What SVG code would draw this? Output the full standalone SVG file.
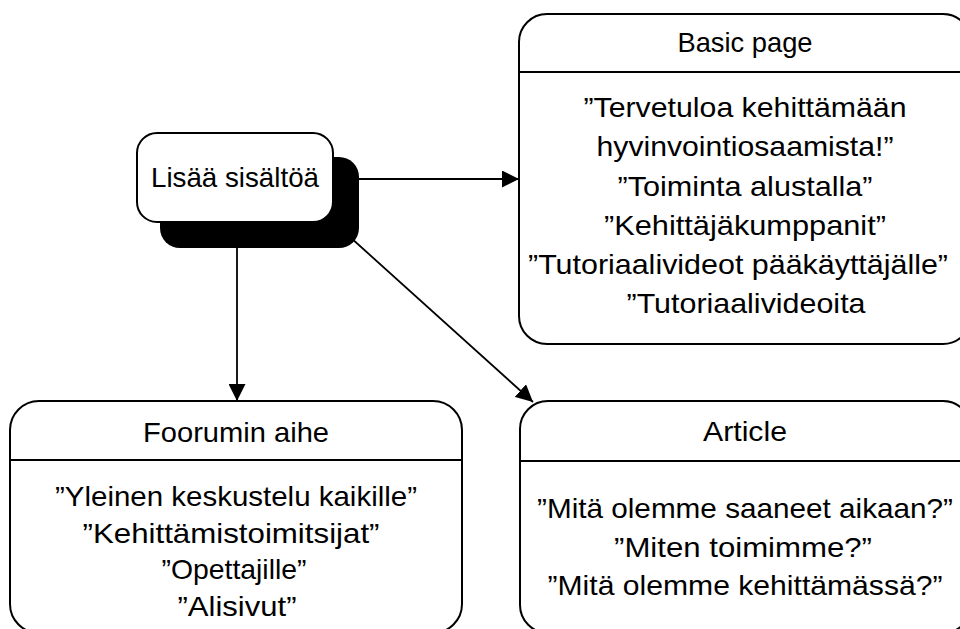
<svg xmlns="http://www.w3.org/2000/svg" width="960" height="629" viewBox="0 0 960 629">
<defs>
<style>
.box{fill:#fff;stroke:#000;stroke-width:2}
.div{stroke:#000;stroke-width:2}
.conn{stroke:#000;stroke-width:1.8;fill:none}
text{font-family:"Liberation Sans",Arial,sans-serif;font-size:28px;fill:#000;text-anchor:middle}
</style>
<marker id="arr" viewBox="0 0 17 17" markerWidth="17" markerHeight="17" refX="17" refY="8.5" orient="auto" markerUnits="userSpaceOnUse">
<path d="M0,0 L17,8.5 L0,17 Z" fill="#000"/>
</marker>
</defs>
<rect width="960" height="629" fill="#fff"/>
<g id="connectors">
<line class="conn" x1="340" y1="179" x2="519" y2="179" marker-end="url(#arr)"/>
<line class="conn" x1="237" y1="230" x2="237" y2="401" marker-end="url(#arr)"/>
<line class="conn" x1="340" y1="228" x2="533" y2="402" marker-end="url(#arr)"/>
</g>
<g id="node-lisaa">
<rect x="160" y="157" width="199" height="91" rx="20" fill="#000"/>
<rect class="box" x="137" y="133" width="196" height="89" rx="20"/>
<text x="235" y="187" textLength="168" lengthAdjust="spacingAndGlyphs">Lisää sisältöä</text>
</g>
<g id="node-basic">
<rect class="box" x="519" y="14" width="452" height="330" rx="28"/>
<line class="div" x1="519" y1="72" x2="971" y2="72"/>
<text x="745" y="52" textLength="135" lengthAdjust="spacingAndGlyphs">Basic page</text>
<text x="745" y="117" textLength="323" lengthAdjust="spacingAndGlyphs">”Tervetuloa kehittämään</text>
<text x="745" y="156" textLength="297" lengthAdjust="spacingAndGlyphs">hyvinvointiosaamista!”</text>
<text x="745" y="195.5" textLength="255" lengthAdjust="spacingAndGlyphs">”Toiminta alustalla”</text>
<text x="745" y="234.5" textLength="282" lengthAdjust="spacingAndGlyphs">”Kehittäjäkumppanit”</text>
<text x="738" y="274" textLength="420" lengthAdjust="spacingAndGlyphs">”Tutoriaalivideot pääkäyttäjälle”</text>
<text x="746" y="313" textLength="239" lengthAdjust="spacingAndGlyphs">”Tutoriaalivideoita</text>
</g>
<g id="node-foorumi">
<rect class="box" x="10" y="401" width="452" height="232" rx="29"/>
<line class="div" x1="10" y1="460" x2="462" y2="460"/>
<text x="236" y="442" textLength="186" lengthAdjust="spacingAndGlyphs">Foorumin aihe</text>
<text x="236" y="506" textLength="362" lengthAdjust="spacingAndGlyphs">”Yleinen keskustelu kaikille”</text>
<text x="231" y="542.5" textLength="297" lengthAdjust="spacingAndGlyphs">”Kehittämistoimitsijat”</text>
<text x="234" y="579" textLength="145" lengthAdjust="spacingAndGlyphs">”Opettajille”</text>
<text x="237" y="615.5" textLength="119" lengthAdjust="spacingAndGlyphs">”Alisivut”</text>
</g>
<g id="node-article">
<rect class="box" x="520" y="401" width="451" height="232" rx="28"/>
<line class="div" x1="520" y1="461" x2="971" y2="461"/>
<text x="745" y="441" textLength="84" lengthAdjust="spacingAndGlyphs">Article</text>
<text x="745" y="518" textLength="416" lengthAdjust="spacingAndGlyphs">”Mitä olemme saaneet aikaan?”</text>
<text x="743" y="556.5" textLength="258" lengthAdjust="spacingAndGlyphs">”Miten toimimme?”</text>
<text x="745" y="595" textLength="395" lengthAdjust="spacingAndGlyphs">”Mitä olemme kehittämässä?”</text>
</g>
</svg>
